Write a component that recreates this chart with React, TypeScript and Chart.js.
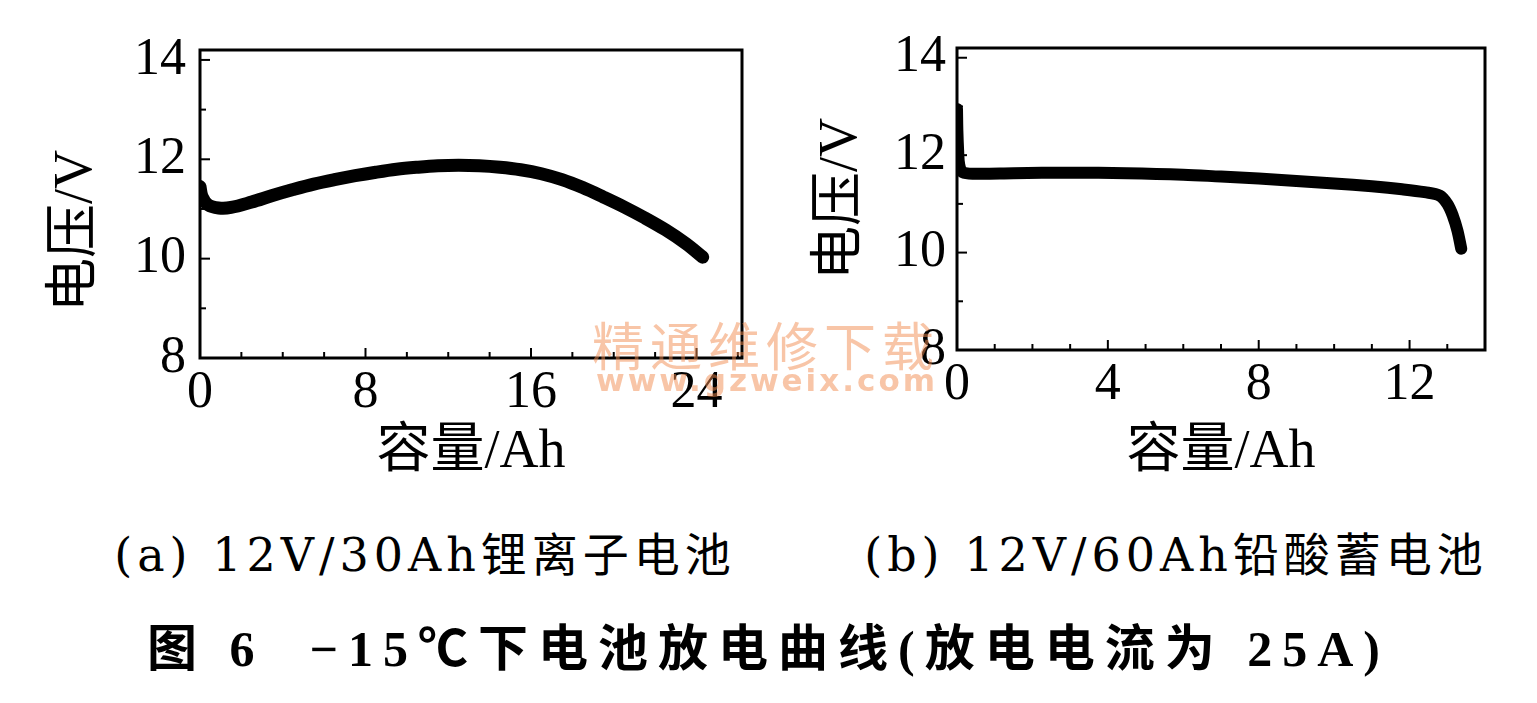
import React, { useEffect, useRef } from "react";
import { Chart, registerables } from "chart.js";

Chart.register(...registerables);

// ---- data ----
// (a) 12V/30Ah lithium-ion battery
const liCapacity = [0, 0.1, 0.4, 0.9, 1.5, 2.5, 3.5, 4.5, 5.5, 6.5, 7.5, 8.5, 9.5, 10.5, 11.5, 12.5, 13.5, 14.5, 15.5, 16.5, 17.5, 18.5, 19.5, 20.5, 21.5, 22.5, 23.5, 24.3];
const liVoltage = [11.45, 11.25, 11.08, 11.02, 11.03, 11.14, 11.27, 11.39, 11.5, 11.59, 11.67, 11.74, 11.8, 11.84, 11.87, 11.88, 11.87, 11.84, 11.79, 11.71, 11.59, 11.43, 11.24, 11.04, 10.82, 10.58, 10.3, 10.03];
// (b) 12V/60Ah lead-acid battery
const leadCapacity = [0, 0.01, 0.03, 0.06, 0.15, 0.5, 1.5, 3, 4.5, 6, 7, 8, 9, 10, 11, 11.8, 12.4, 12.8, 13.0, 13.15, 13.27, 13.37];
const leadVoltage = [12.95, 12.5, 12.1, 11.8, 11.65, 11.62, 11.63, 11.64, 11.63, 11.6, 11.56, 11.52, 11.47, 11.42, 11.36, 11.3, 11.24, 11.17, 11.0, 10.75, 10.45, 10.08];

const liXTicks = [0, 8, 16, 24];
const leadXTicks = [0, 4, 8, 12];
const voltTicks = [8, 10, 12, 14];

const yTitle = "电压/V";
const xTitle = "容量/Ah";
const captionA = "(a) 12V/30Ah锂离子电池";
const captionB = "(b) 12V/60Ah铅酸蓄电池";
const figTitle = "图 6  −15℃下电池放电曲线(放电电流为 25A)";
const watermark1 = "精通维修下载";
const watermark2 = "www.gzweix.com";

const SERIF = "'Liberation Serif', 'Noto Sans CJK SC', serif";

const framePlugin = {
  id: "frame",
  afterDraw(chart: any, _args: any, opts: any) {
    const { ctx, chartArea: a, scales } = chart;
    const xs = scales.x;
    const ys = scales.y;
    ctx.save();
    ctx.strokeStyle = "#000";
    ctx.lineWidth = 2;
    for (let v = xs.min; v <= xs.max + 1e-9; v += opts.xMinor) {
      const px = xs.getPixelForValue(v);
      const major = Math.abs(v / opts.xMajor - Math.round(v / opts.xMajor)) < 1e-6;
      const len = major ? 10 : 6;
      ctx.beginPath();
      ctx.moveTo(px, a.bottom);
      ctx.lineTo(px, a.bottom - len);
      ctx.stroke();
    }
    for (let v = ys.min; v <= ys.max + 1e-9; v += 1) {
      const py = ys.getPixelForValue(v);
      const len = Math.round(v) % 2 === 0 ? 10 : 6;
      ctx.beginPath();
      ctx.moveTo(a.left, py);
      ctx.lineTo(a.left + len, py);
      ctx.stroke();
    }
    ctx.lineWidth = 3;
    ctx.strokeRect(a.left, a.top, a.right - a.left, a.bottom - a.top);
    ctx.restore();
  },
};

type PanelProps = {
  xs: number[];
  ys: number[];
  xTicks: number[];
  xMax: number;
  xMinor: number;
  xMajor: number;
  width: number;
  height: number;
  padTop: number;
  padRight: number;
  yAxisWidth: number;
  xAxisHeight: number;
  yTitlePad: number;
  yTitleText: string;
  yLabelPad: number;
  lineWidth: number;
};

function Panel(p: PanelProps) {
  const ref = useRef<HTMLCanvasElement>(null);
  useEffect(() => {
    if (!ref.current) return;
    const chart = new Chart(ref.current, {
      type: "line",
      data: {
        datasets: [
          {
            data: p.xs.map((x, i) => ({ x, y: p.ys[i] })),
            borderColor: "#000",
            borderWidth: p.lineWidth,
            pointRadius: 0,
            tension: 0.35,
            borderCapStyle: "round",
            borderJoinStyle: "round",
            fill: false,
          },
        ],
      },
      options: {
        animation: false,
        responsive: false,
        layout: { padding: { top: p.padTop, right: p.padRight, left: 0, bottom: 0 } },
        plugins: {
          legend: { display: false },
          tooltip: { enabled: false },
          frame: { xMinor: p.xMinor, xMajor: p.xMajor },
        } as any,
        scales: {
          x: {
            type: "linear",
            min: 0,
            max: p.xMax,
            grid: { display: false, drawTicks: false },
            border: { display: false },
            afterBuildTicks: (s: any) => {
              s.ticks = p.xTicks.map((v) => ({ value: v }));
            },
            afterFit: (s: any) => {
              s.height = p.xAxisHeight;
            },
            ticks: {
              color: "#000",
              padding: 4,
              maxRotation: 0,
              autoSkip: false,
              font: { family: SERIF, size: 52 },
            },
            title: {
              display: true,
              text: xTitle,
              color: "#000",
              font: { family: SERIF, size: 54, lineHeight: 1 },
              padding: { top: 0, bottom: 0 },
            },
          },
          y: {
            type: "linear",
            min: 8,
            max: 14.2,
            grid: { display: false, drawTicks: false },
            border: { display: false },
            afterBuildTicks: (s: any) => {
              s.ticks = voltTicks.map((v) => ({ value: v }));
            },
            afterFit: (s: any) => {
              s.width = p.yAxisWidth;
            },
            ticks: {
              color: "#000",
              padding: p.yLabelPad,
              autoSkip: false,
              font: { family: SERIF, size: 52 },
            },
            title: {
              display: true,
              text: p.yTitleText,
              color: "#000",
              font: { family: SERIF, size: 54, lineHeight: 1 },
              padding: { top: p.yTitlePad, bottom: 0 },
            },
          },
        },
      },
      plugins: [framePlugin as any],
    });
    return () => chart.destroy();
  }, []);
  return <canvas ref={ref} width={p.width} height={p.height} style={{ display: "block" }} />;
}

const captionStyle: React.CSSProperties = {
  position: "absolute",
  width: 800,
  top: 518,
  lineHeight: "60px",
  textAlign: "center",
  font: "46px 'DejaVu Serif', 'Noto Sans CJK SC', serif",
  letterSpacing: 5,
  color: "#000",
  whiteSpace: "pre",
};

export default function App() {
  return (
    <div style={{ position: "absolute", left: 0, top: 0, width: 1537, height: 703, background: "#fff", overflow: "hidden" }}>
      <div style={{ position: "absolute", left: 0, top: 0 }}>
        <Panel
          xs={liCapacity}
          ys={liVoltage}
          xTicks={liXTicks}
          xMax={26.2}
          xMinor={2}
          xMajor={8}
          width={760}
          height={480}
          padTop={50}
          padRight={18}
          yAxisWidth={200}
          xAxisHeight={122}
          yTitlePad={50}
          yTitleText={yTitle + "    "}
          yLabelPad={14}
          lineWidth={13}
        />
      </div>
      <div style={{ position: "absolute", left: 760, top: 0 }}>
        <Panel
          xs={leadCapacity}
          ys={leadVoltage}
          xTicks={leadXTicks}
          xMax={14}
          xMinor={1}
          xMajor={4}
          width={777}
          height={480}
          padTop={48}
          padRight={52}
          yAxisWidth={197}
          xAxisHeight={130}
          yTitlePad={55}
          yTitleText={yTitle}
          yLabelPad={11}
          lineWidth={12}
        />
      </div>
      <div style={{ ...captionStyle, left: 25 }}>{captionA}</div>
      <div style={{ ...captionStyle, left: 776 }}>{captionB}</div>
      <div style={{ position: "absolute", left: 0, width: 1537, top: 608, lineHeight: "60px", textAlign: "center", font: "bold 50px 'Liberation Serif', 'Noto Sans CJK SC', serif", letterSpacing: 10, color: "#000", whiteSpace: "pre" }}>
        {figTitle}
      </div>
      <div style={{ position: "absolute", left: 592, top: 306, lineHeight: "64px", font: "52px 'Noto Sans CJK SC', sans-serif", letterSpacing: 6, color: "rgba(242,140,80,0.5)", whiteSpace: "pre" }}>
        {watermark1}
      </div>
      <div style={{ position: "absolute", left: 596, top: 362, lineHeight: "38px", font: "bold 31px 'DejaVu Sans', sans-serif", letterSpacing: 3, color: "rgba(242,140,80,0.5)", whiteSpace: "pre" }}>
        {watermark2}
      </div>
    </div>
  );
}
